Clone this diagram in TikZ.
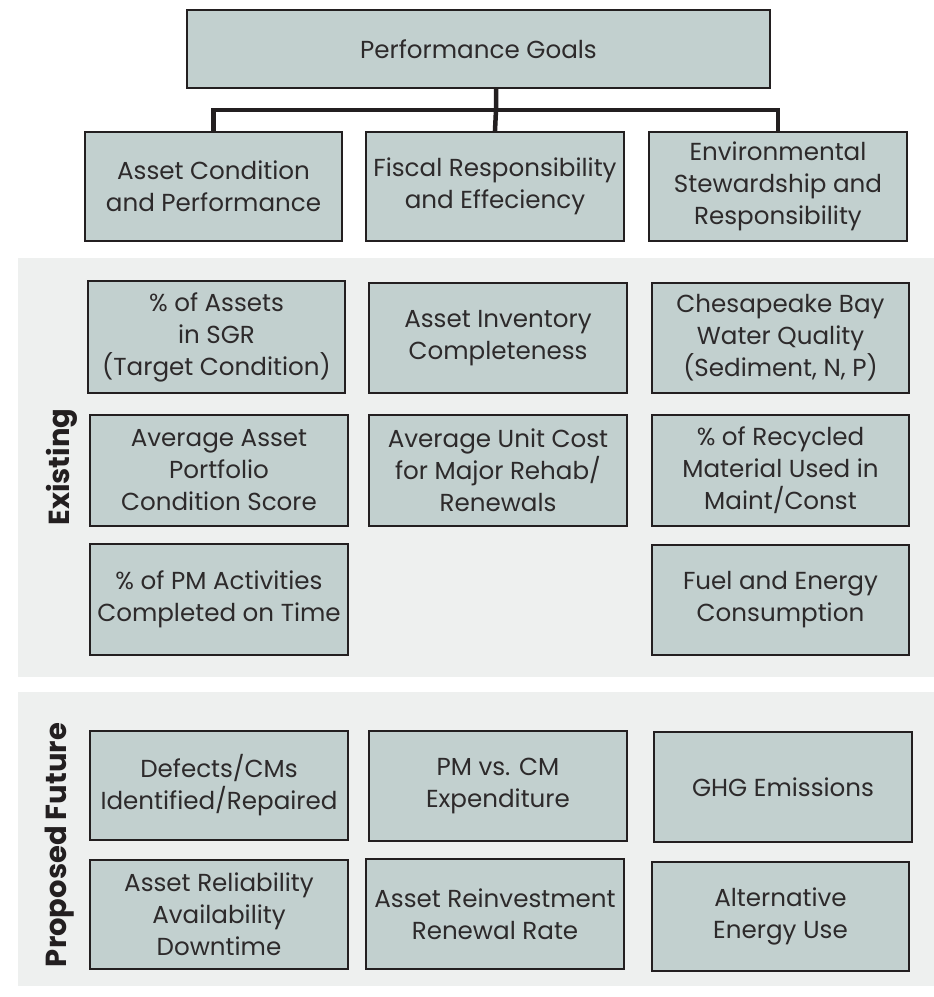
\documentclass[tikz,border=0pt]{standalone}
\usepackage{fontspec}
\setmainfont{Poppins}
\definecolor{boxfill}{RGB}{194,208,207}
\definecolor{boxline}{RGB}{35,31,32}
\definecolor{panelfill}{RGB}{238,240,239}
\definecolor{txt}{RGB}{45,42,43}
\tikzset{
  box/.style={draw=boxline, line width=2.8pt, fill=boxfill, align=center, text=txt,
    inner sep=0pt, font=\fontsize{24.6}{32}\selectfont},
  conn/.style={draw=boxline, line width=4.5pt, line join=miter, line cap=rect},
  panel/.style={fill=panelfill, draw=none},
  sidelabel/.style={rotate=90, font=\bfseries\fontsize{29}{32}\selectfont, text=boxline, inner sep=0pt}
}
\begin{document}
\begin{tikzpicture}[x=1pt,y=-1pt]
\useasboundingbox (0,0) rectangle (934,997);
\fill[white] (0,0) rectangle (934,997);
% panels
\fill[panelfill] (18,258) rectangle (934,677);
\fill[panelfill] (18,692) rectangle (934,986);
% top
\node[box, minimum width=583pt, minimum height=78pt] (top) at (478.5,49) {Performance Goals};
\node[box, minimum width=257pt, minimum height=109pt] (b1) at (213.5,186.5) {Asset Condition\\and Performance};
\node[box, minimum width=258pt, minimum height=109pt] (b2) at (495,186.5) {Fiscal Responsibility\\and Effeciency};
\node[box, minimum width=258pt, minimum height=109pt] (b3) at (778,186.5) {Environmental\\Stewardship and\\Responsibility};
\coordinate (bus) at (496,110);
\draw[conn] (b2.north) -- (bus) -- (top.south -| bus);
\draw[conn] (b1.north) -- (b1.north |- bus) -- (b3.north |- bus) -- (b3.north);
% existing
\node[box, minimum width=257pt, minimum height=112pt] (e11) at (216.5,337) {\% of Assets\\in SGR\\(Target Condition)};
\node[box, minimum width=258pt, minimum height=111pt] (e21) at (219,470.5) {Average Asset\\Portfolio\\Condition Score};
\node[box, minimum width=258pt, minimum height=111pt] (e31) at (219,599.5) {\% of PM Activities\\Completed on Time};
\node[box, minimum width=258pt, minimum height=110pt] (e12) at (498,338) {Asset Inventory\\Completeness};
\node[box, minimum width=258pt, minimum height=111pt] (e22) at (498,470.5) {Average Unit Cost\\for Major Rehab/\\Renewals};
\node[box, minimum width=257pt, minimum height=110pt] (e13) at (780.5,338) {Chesapeake Bay\\Water Quality\\(Sediment, N, P)};
\node[box, minimum width=257pt, minimum height=111pt] (e23) at (780.5,470.5) {\% of Recycled\\Material Used in\\Maint/Const};
\node[box, minimum width=257pt, minimum height=110pt] (e33) at (780.5,600) {Fuel and Energy\\Consumption};
\node[sidelabel] (lexist) at (62,467) {Existing};
% proposed
\node[box, minimum width=258pt, minimum height=109pt] (p11) at (219,785.5) {Defects/CMs\\Identified/Repaired};
\node[box, minimum width=258pt, minimum height=109pt] (p21) at (219,914.5) {Asset Reliability\\Availability\\Downtime};
\node[box, minimum width=258pt, minimum height=110pt] (p12) at (498,786) {PM vs. CM\\Expenditure};
\node[box, minimum width=258pt, minimum height=110pt] (p22) at (495,914) {Asset Reinvestment\\Renewal Rate};
\node[box, minimum width=258pt, minimum height=110pt] (p13) at (783,787) {GHG Emissions};
\node[box, minimum width=257pt, minimum height=109pt] (p23) at (780.5,916.5) {Alternative\\Energy Use};
\node[sidelabel] (lprop) at (60,845) {Proposed Future};
\end{tikzpicture}
\end{document}
